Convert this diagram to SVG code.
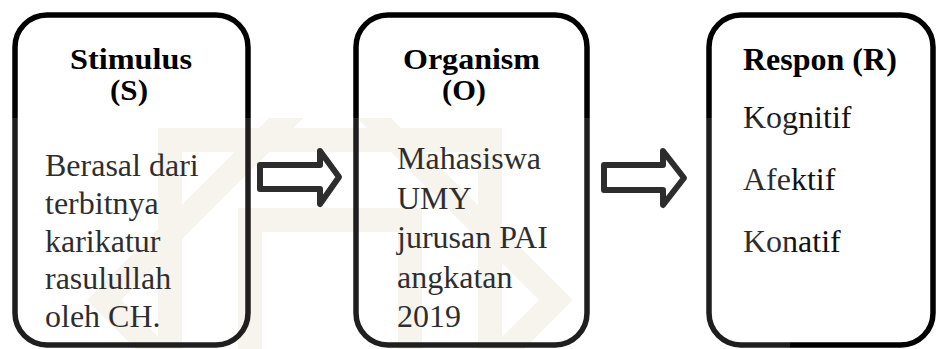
<svg xmlns="http://www.w3.org/2000/svg" width="937" height="349" viewBox="0 0 937 349">
<style>
.box{fill:none;stroke:#000;stroke-width:5.5}
.arr{fill:#fff;stroke:#111;stroke-width:6;stroke-linejoin:round}
.h{font-family:"Liberation Serif","Times New Roman",serif;font-size:32px;font-weight:bold;fill:#000}
.hs{font-family:"Liberation Serif","Times New Roman",serif;font-size:29px;font-weight:bold;fill:#000}
.t{font-family:"Liberation Serif","Times New Roman",serif;font-size:32px;fill:#111}
.wm{fill:none;stroke:#eee6d8;stroke-width:24;stroke-linejoin:miter}
</style>
<defs>
<clipPath id="wmclip"><rect x="0" y="118" width="790" height="231"/></clipPath>
</defs>
<rect width="937" height="349" fill="#fff"/>
<g id="watermark" clip-path="url(#wmclip)" opacity="0.5">
<rect class="wm" x="170" y="140" width="320" height="320"/>
<polygon class="wm" points="330,74 556,300 330,526 104,300"/>
<rect class="wm" x="250" y="220" width="160" height="160"/>
</g>
<g id="stimulus">
<rect class="box" x="15" y="15" width="233" height="330" rx="32"/>
<text class="hs" x="131" y="69" text-anchor="middle" textLength="122" lengthAdjust="spacingAndGlyphs">Stimulus</text>
<text class="hs" x="129" y="100" text-anchor="middle" textLength="38" lengthAdjust="spacingAndGlyphs">(S)</text>
<text class="t" x="45" y="176">Berasal dari</text>
<text class="t" x="45" y="214">terbitnya</text>
<text class="t" x="45" y="252">karikatur</text>
<text class="t" x="45" y="289">rasulullah</text>
<text class="t" x="45" y="327">oleh CH.</text>
</g>
<g id="organism">
<rect class="box" x="356" y="15" width="231" height="330" rx="32"/>
<text class="hs" x="471.5" y="69" text-anchor="middle" textLength="137" lengthAdjust="spacingAndGlyphs">Organism</text>
<text class="hs" x="464" y="100" text-anchor="middle" textLength="44" lengthAdjust="spacingAndGlyphs">(O)</text>
<text class="t" x="397" y="169">Mahasiswa</text>
<text class="t" x="397" y="209">UMY</text>
<text class="t" x="397" y="248">jurusan PAI</text>
<text class="t" x="397" y="288">angkatan</text>
<text class="t" x="397" y="327">2019</text>
</g>
<g id="respon">
<rect class="box" x="709" y="15" width="224" height="330" rx="32"/>
<text class="h" x="743" y="70">Respon (R)</text>
<text class="t" x="743" y="128">Kognitif</text>
<text class="t" x="743" y="190">Afektif</text>
<text class="t" x="743" y="252">Konatif</text>
</g>
<g id="connectors">
<polygon class="arr" points="260,165 320,165 320,151 339,177 320,204 320,189 260,189"/>
<polygon class="arr" points="604,165 663,165 663,151 684,178 663,205 663,190 604,190"/>
</g>
<rect x="0" y="118" width="790" height="231" fill="#fff" opacity="0.12"/>
</svg>
